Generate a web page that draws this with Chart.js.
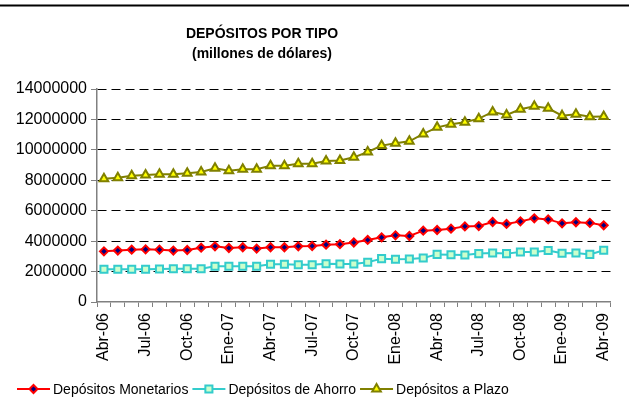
<!DOCTYPE html>
<html>
<head>
<meta charset="utf-8">
<script src="https://cdn.jsdelivr.net/npm/chart.js@4/dist/chart.umd.min.js"></script>
<style>
  html, body { margin: 0; padding: 0; background: #fff; }
  #wrap { width: 629px; height: 414px; }
</style>
</head>
<body>
<div id="wrap"><canvas id="chart" width="629" height="414"></canvas></div>
<script>
const months = [
    'Abr-06', 'May-06', 'Jun-06', 'Jul-06', 'Ago-06', 'Sep-06', 'Oct-06', 'Nov-06', 'Dic-06',
    'Ene-07', 'Feb-07', 'Mar-07', 'Abr-07', 'May-07', 'Jun-07', 'Jul-07', 'Ago-07', 'Sep-07',
    'Oct-07', 'Nov-07', 'Dic-07', 'Ene-08', 'Feb-08', 'Mar-08', 'Abr-08', 'May-08', 'Jun-08',
    'Jul-08', 'Ago-08', 'Sep-08', 'Oct-08', 'Nov-08', 'Dic-08', 'Ene-09', 'Feb-09', 'Mar-09',
    'Abr-09'
];

const monetarios = [
    3330000, 3380000, 3440000, 3460000, 3440000, 3380000, 3420000, 3570000, 3660000,
    3550000, 3600000, 3510000, 3600000, 3600000, 3660000, 3680000, 3770000, 3800000,
    3910000, 4080000, 4250000, 4380000, 4340000, 4690000, 4730000, 4820000, 4970000,
    4990000, 5260000, 5130000, 5300000, 5500000, 5430000, 5170000, 5240000, 5200000,
    5040000
];

const ahorro = [
    2150000, 2150000, 2150000, 2150000, 2170000, 2180000, 2180000, 2190000, 2350000,
    2350000, 2350000, 2350000, 2480000, 2480000, 2450000, 2450000, 2510000, 2500000,
    2500000, 2610000, 2850000, 2810000, 2830000, 2890000, 3130000, 3110000, 3090000,
    3180000, 3220000, 3180000, 3290000, 3290000, 3380000, 3200000, 3220000, 3130000,
    3400000
];

const plazo = [
    8100000, 8170000, 8300000, 8350000, 8400000, 8400000, 8460000, 8550000, 8790000,
    8630000, 8720000, 8720000, 8960000, 8960000, 9090000, 9090000, 9270000, 9300000,
    9510000, 9860000, 10280000, 10430000, 10560000, 11050000, 11480000, 11680000, 11810000,
    12050000, 12490000, 12290000, 12670000, 12870000, 12730000, 12250000, 12340000, 12180000,
    12200000
];

const yTicks = [0, 2000000, 4000000, 6000000, 8000000, 10000000, 12000000, 14000000];

const titleLines = ['DEPÓSITOS POR TIPO', '(millones de dólares)'];

// title, top rule and legend drawn by hand to match the original spacing
const decorPlugin = {
    id: 'decor',
    afterDraw(chart) {
        const ctx = chart.ctx;
        ctx.save();

        ctx.strokeStyle = '#000';
        ctx.lineWidth = 2;
        ctx.beginPath();
        ctx.moveTo(0, 5.5);
        ctx.lineTo(629, 5.5);
        ctx.stroke();

        ctx.fillStyle = '#000';
        ctx.textAlign = 'center';
        ctx.textBaseline = 'middle';
        ctx.font = 'bold 14px "Liberation Sans", Arial, sans-serif';
        ctx.fillText(titleLines[0], 262, 34);
        ctx.fillText(titleLines[1], 262, 54);

        ctx.font = '14px "Liberation Sans", Arial, sans-serif';
        ctx.textAlign = 'left';
        let x = 17;
        const y = 389;
        chart.data.datasets.forEach(ds => {
            ctx.strokeStyle = ds.borderColor;
            ctx.lineWidth = 2;
            ctx.beginPath();
            ctx.moveTo(x, y);
            ctx.lineTo(x + 33, y);
            ctx.stroke();
            ctx.fillStyle = ds.pointBackgroundColor;
            ctx.strokeStyle = ds.pointBorderColor;
            ctx.lineWidth = ds.pointBorderWidth;
            Chart.helpers.drawPoint(ctx, {
                pointStyle: ds.pointStyle,
                radius: ds.pointRadius,
                borderWidth: ds.pointBorderWidth,
                rotation: 0
            }, x + 16.5, y);
            ctx.fillStyle = '#000';
            ctx.fillText(ds.label, x + 36, y + 1);
            x += 36 + ctx.measureText(ds.label).width + 4;
        });

        ctx.restore();
    }
};

new Chart(document.getElementById('chart').getContext('2d'), {
    type: 'line',
    data: {
        labels: months,
        datasets: [
            {
                label: 'Depósitos Monetarios',
                data: monetarios,
                borderColor: '#ff0000',
                borderWidth: 2,
                pointStyle: 'rectRot',
                pointRadius: 4,
                pointBorderWidth: 2,
                pointBorderColor: '#ff0000',
                pointBackgroundColor: '#000080',
                tension: 0
            },
            {
                label: 'Depósitos de Ahorro',
                data: ahorro,
                borderColor: '#33cccc',
                borderWidth: 2,
                pointStyle: 'rect',
                pointRadius: 5,
                pointBorderWidth: 2,
                pointBorderColor: '#33cccc',
                pointBackgroundColor: '#ccffcc',
                tension: 0
            },
            {
                label: 'Depósitos a Plazo',
                data: plazo,
                borderColor: '#808000',
                borderWidth: 2,
                pointStyle: 'triangle',
                pointRadius: 5,
                pointBorderWidth: 2,
                pointBorderColor: '#808000',
                pointBackgroundColor: '#ffff00',
                tension: 0
            }
        ]
    },
    options: {
        responsive: false,
        animation: false,
        layout: { padding: { top: 89, right: 7, bottom: 42, left: 0 } },
        plugins: {
            legend: { display: false },
            title: { display: false },
            tooltip: { enabled: false }
        },
        scales: {
            x: {
                offset: true,
                grid: {
                    offset: true,
                    drawOnChartArea: false,
                    tickLength: 5,
                    tickColor: '#808080'
                },
                border: { color: '#808080', width: 1.5 },
                ticks: {
                    autoSkip: false,
                    minRotation: 90,
                    maxRotation: 90,
                    padding: 6,
                    color: '#000',
                    font: { family: '"Liberation Sans", Arial, sans-serif', size: 16 },
                    callback: (v, i) => (i % 3 === 0 ? months[i] : '')
                },
                afterFit: s => { s.height = 70; }
            },
            y: {
                min: 0,
                max: 14000000,
                afterBuildTicks: s => { s.ticks = yTicks.map(v => ({ value: v })); },
                grid: {
                    color: ctx => (ctx.tick && ctx.tick.value === 0 ? 'rgba(0,0,0,0)' : '#000'),
                    lineWidth: 1,
                    tickLength: 6,
                    tickColor: '#808080'
                },
                border: { color: '#808080', width: 1.5, dash: [9, 5] },
                ticks: {
                    padding: 4,
                    color: '#000',
                    font: { family: '"Liberation Sans", Arial, sans-serif', size: 16 },
                    callback: v => String(v)
                },
                afterFit: s => { s.width = 97; }
            }
        }
    },
    plugins: [decorPlugin]
});
</script>
</body>
</html>
